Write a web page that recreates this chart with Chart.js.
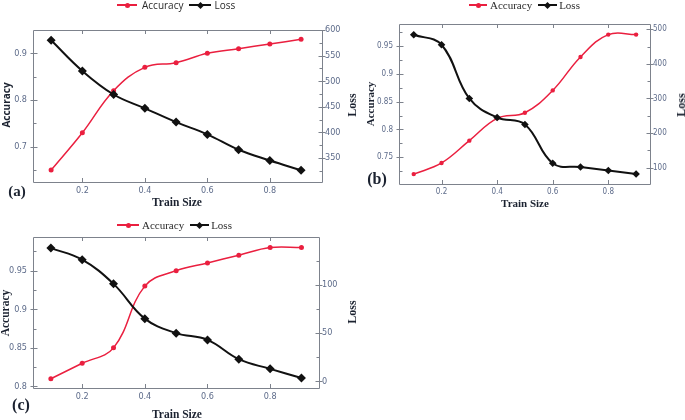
<!DOCTYPE html>
<html>
<head>
<meta charset="utf-8">
<script src="https://cdn.jsdelivr.net/npm/chart.js@4.4.1/dist/chart.umd.min.js"></script>
<style>
  html, body { margin: 0; padding: 0; background: #fff; }
  #page { position: relative; width: 685px; height: 420px; overflow: hidden; }
  canvas { position: absolute; left: 0; top: 0; }
  .lbl { position: absolute; font-family: "Liberation Serif", serif; font-weight: bold; color: #1b2230;
         white-space: nowrap; transform: translate(-50%, -50%); line-height: 1; }
  .rot { transform: translate(-50%, -50%) rotate(-90deg); }
  .legend { position: absolute; display: flex; align-items: center; white-space: nowrap; color: #2a2a2a;
            transform: translateY(-50%); line-height: 1; }
  .sw { position: relative; display: inline-block; height: 2px; }
  .sw i { position: absolute; left: 50%; top: 50%; }
  .dot { width: 5px; height: 5px; border-radius: 50%; margin: -2.5px 0 0 -2.5px; }
  .dia { width: 5px; height: 5px; transform: rotate(45deg); margin: -2.5px 0 0 -2.5px; }
</style>
</head>
<body>
<div id="page">
  <canvas id="chartA" width="685" height="420"></canvas>
  <canvas id="chartB" width="685" height="420"></canvas>
  <canvas id="chartC" width="685" height="420"></canvas>

  <!-- legends -->
  <div class="legend" style="left:117px; top:5px; font:10px 'Open Sans', sans-serif;">
    <span class="sw" style="width:20px; background:#ea1f3f; margin-right:5px;"><i class="dot" style="background:#ea1f3f"></i></span>Accuracy
    <span class="sw" style="width:22px; background:#111; margin:0 3px 0 6px;"><i class="dia" style="background:#111"></i></span>Loss
  </div>
  <div class="legend" style="left:469px; top:5px; font:11px 'Liberation Serif', serif;">
    <span class="sw" style="width:18px; background:#ea1f3f; margin-right:3px;"><i class="dot" style="background:#ea1f3f"></i></span>Accuracy
    <span class="sw" style="width:19px; background:#111; margin:0 2px 0 6px;"><i class="dia" style="background:#111"></i></span>Loss
  </div>
  <div class="legend" style="left:117px; top:225px; font:11px 'Liberation Serif', serif;">
    <span class="sw" style="width:22px; background:#ea1f3f; margin-right:3px;"><i class="dot" style="background:#ea1f3f"></i></span>Accuracy
    <span class="sw" style="width:19px; background:#111; margin:0 2px 0 6px;"><i class="dia" style="background:#111"></i></span>Loss
  </div>

  <!-- axis titles and panel labels -->
  <div class="lbl rot" style="left:6px; top:105px; font:bold 10px 'Open Sans', sans-serif;">Accuracy</div>
  <div class="lbl rot" style="left:352px; top:105px; font-size:12px;">Loss</div>
  <div class="lbl" style="left:177px; top:203px; font-size:11.5px;">Train Size</div>
  <div class="lbl" style="left:17px; top:191px; font-size:15px;">(a)</div>

  <div class="lbl rot" style="left:370px; top:104px; font-size:11px;">Accuracy</div>
  <div class="lbl rot" style="left:681px; top:105px; font-size:12px;">Loss</div>
  <div class="lbl" style="left:525px; top:203px; font-size:11px;">Train Size</div>
  <div class="lbl" style="left:377px; top:179px; font-size:16px;">(b)</div>

  <div class="lbl rot" style="left:6px; top:313px; font-size:11.5px;">Accuracy</div>
  <div class="lbl rot" style="left:352px; top:312px; font-size:12px;">Loss</div>
  <div class="lbl" style="left:177px; top:415px; font-size:11.5px;">Train Size</div>
  <div class="lbl" style="left:21px; top:405px; font-size:16px;">(c)</div>
</div>

<script>
// data
const trainSize = [0.1, 0.2, 0.3, 0.4, 0.5, 0.6, 0.7, 0.8, 0.9];

const accuracyA = [0.65, 0.73, 0.82, 0.87, 0.88, 0.90, 0.91, 0.92, 0.93];
const lossA = [580, 520, 474, 447, 420, 396, 366, 345, 326];

const accuracyB = [0.72, 0.74, 0.78, 0.82, 0.83, 0.87, 0.93, 0.97, 0.97];
const lossB = [484, 455, 300, 245, 225, 113, 102, 92, 82];

const accuracyC = [0.81, 0.83, 0.85, 0.93, 0.95, 0.96, 0.97, 0.98, 0.98];
const lossC = [138, 126, 101, 65, 50, 43, 23, 13, 3.5];

const RED = '#ea1f3f';
const BLACK = '#111111';
const TICK_COLOR = '#5d6b8a';
const FRAME_COLOR = '#7d828c';
const AXW = 40;   // fixed y-axis box width
const AXH = 20;   // fixed x-axis box height

Chart.defaults.font.family = '"DejaVu Sans Condensed", "Liberation Sans Narrow", "Open Sans", sans-serif';

const fmt = (v) => parseFloat(v.toFixed(3)).toString();

// box frame with inward tick marks (majors cross the axis, minors inside)
const frame = {
  id: 'frame',
  afterDatasetsDraw(chart, args, opts) {
    const {ctx, chartArea: a, scales} = chart;
    ctx.save();
    ctx.strokeStyle = FRAME_COLOR;
    ctx.lineWidth = 1;
    ctx.beginPath();
    ctx.rect(Math.round(a.left) + 0.5, Math.round(a.top) + 0.5, Math.round(a.width), Math.round(a.height));
    scales.x.ticks.forEach((t) => {
      const px = Math.round(scales.x.getPixelForValue(t.value)) + 0.5;
      ctx.moveTo(px, a.bottom); ctx.lineTo(px, a.bottom - 4);
      ctx.moveTo(px, a.top); ctx.lineTo(px, a.top + 4);
    });
    const side = (scale, minor, x0, dir) => {
      scale.ticks.forEach((t) => {
        const py = Math.round(scale.getPixelForValue(t.value)) + 0.5;
        ctx.moveTo(x0 - 3 * dir, py); ctx.lineTo(x0 + 4 * dir, py);
      });
      let v = Math.ceil(scale.min / minor) * minor;
      for (; v <= scale.max; v += minor) {
        const py = Math.round(scale.getPixelForValue(v)) + 0.5;
        ctx.moveTo(x0, py); ctx.lineTo(x0 + 3 * dir, py);
      }
    };
    side(scales.y, opts.yMinor, Math.round(a.left) + 0.5, 1);
    side(scales.y1, opts.y1Minor, Math.round(a.right) + 0.5, -1);
    ctx.stroke();
    ctx.restore();
  }
};

function makeChart(id, acc, loss, s) {
  const tickOpts = (step, pad) => ({
    stepSize: step, includeBounds: false, autoSkip: false, padding: pad,
    color: TICK_COLOR, font: {size: s.tickSize}, maxRotation: 0, callback: fmt
  });
  return new Chart(document.getElementById(id), {
    type: 'line',
    data: {
      datasets: [
        {
          label: 'Accuracy',
          data: trainSize.map((x, i) => ({x: x, y: acc[i]})),
          yAxisID: 'y', order: 1,
          borderColor: RED, backgroundColor: RED, borderWidth: s.accWidth,
          pointStyle: 'circle', pointRadius: s.accPt, pointBorderWidth: 0,
          tension: 0.4
        },
        {
          label: 'Loss',
          data: trainSize.map((x, i) => ({x: x, y: loss[i]})),
          yAxisID: 'y1', order: 0,
          borderColor: BLACK, backgroundColor: BLACK, borderWidth: s.lossWidth,
          pointStyle: 'rectRot', pointRadius: s.lossPt, pointBorderWidth: 0,
          tension: 0.4
        }
      ]
    },
    options: {
      responsive: false,
      animation: false,
      events: [],
      layout: {
        padding: {
          left: s.area[0] - AXW, right: 685 - s.area[1] - AXW,
          top: s.area[2], bottom: 420 - s.area[3] - AXH
        }
      },
      plugins: {
        legend: {display: false},
        tooltip: {enabled: false},
        frame: {yMinor: s.yMinor, y1Minor: s.y1Minor}
      },
      scales: {
        x: {
          type: 'linear', min: s.x[0], max: s.x[1],
          afterFit: (sc) => { sc.height = AXH; },
          grid: {display: false, drawTicks: false}, border: {display: false},
          ticks: tickOpts(0.2, 3)
        },
        y: {
          position: 'left', min: s.y[0], max: s.y[1],
          afterFit: (sc) => { sc.width = AXW; },
          grid: {display: false, drawTicks: false}, border: {display: false},
          ticks: tickOpts(s.yStep, 6)
        },
        y1: {
          position: 'right', min: s.y1[0], max: s.y1[1],
          afterFit: (sc) => { sc.width = AXW; },
          grid: {display: false, drawTicks: false}, border: {display: false},
          ticks: tickOpts(s.y1Step, 3)
        }
      }
    },
    plugins: [frame]
  });
}

makeChart('chartA', accuracyA, lossA, {
  area: [33, 322, 30, 182],
  x: [0.042, 0.967], y: [0.6244, 0.95], y1: [303, 600],
  yStep: 0.1, yMinor: 0.05, y1Step: 50, y1Minor: 25,
  tickSize: 9, accWidth: 1.5, accPt: 2.5, lossWidth: 2, lossPt: 4.5
});

makeChart('chartB', accuracyB, lossB, {
  area: [399, 650, 24, 184],
  x: [0.047, 0.95], y: [0.7023, 0.989], y1: [53, 515],
  yStep: 0.05, yMinor: 0.025, y1Step: 100, y1Minor: 50,
  tickSize: 8, accWidth: 1.5, accPt: 2.2, lossWidth: 2, lossPt: 3.8
});

makeChart('chartC', accuracyC, lossC, {
  area: [33, 319, 237, 388],
  x: [0.043, 0.956], y: [0.798, 0.9936], y1: [-6.8, 149.5],
  yStep: 0.05, yMinor: 0.025, y1Step: 50, y1Minor: 25,
  tickSize: 9, accWidth: 1.5, accPt: 2.5, lossWidth: 2, lossPt: 4.5
});
</script>
</body>
</html>
